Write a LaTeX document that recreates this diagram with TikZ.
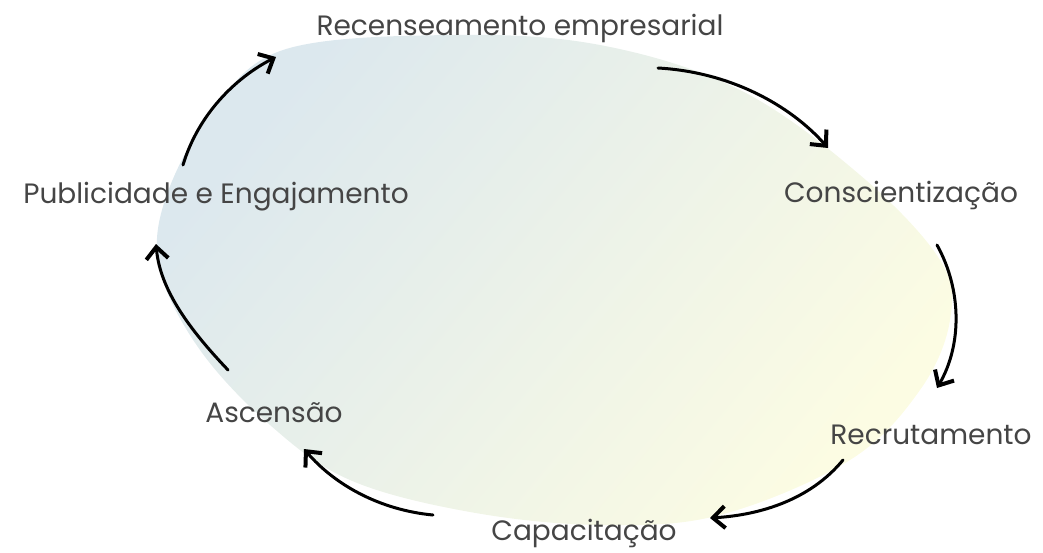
\documentclass[tikz,border=0pt]{standalone}
\usepackage{fontspec}
\setmainfont{Poppins}
\usetikzlibrary{arrows.meta}
\definecolor{blobblue}{HTML}{DCE8EE}
\definecolor{blobmid}{HTML}{EEF3E9}
\definecolor{blobyellow}{HTML}{FCFCE3}
\definecolor{txt}{HTML}{454545}
\begin{document}
\begin{tikzpicture}[x=1pt,y=-1pt,
  lbl/.style={text=txt,font=\fontsize{28}{32}\selectfont,inner sep=0pt},
  cyc/.style={line width=3pt,line cap=round,
    -{Straight Barb[length=12pt,width=22pt,line width=4pt]}}]
\useasboundingbox (0,0) rectangle (1043,552);
\shade[top color=blobblue, middle color=blobmid, bottom color=blobyellow, shading angle=50]
  plot[smooth cycle, tension=0.6] coordinates {(283,50) (450,35) (600,45) (740,90) (860,175) (940,260) (950,320) (920,390) (850,460) (720,515) (600,525) (470,512) (350,480) (270,425) (200,350) (160,270) (165,200) (210,115)};
\node[lbl] (rec) at (520,28) {Recenseamento empresarial};
\node[lbl] (con) at (901,195) {Conscientização};
\node[lbl] (ecr) at (931,435) {Recrutamento};
\node[lbl] (cap) at (584,533) {Capacitação};
\node[lbl] (asc) at (274,413) {Ascensão};
\node[lbl] (pub) at (216,197) {Publicidade e Engajamento};
\coordinate (a1s) at (183,165); \coordinate (a1e) at (276,57);
\coordinate (a2s) at (658,68);  \coordinate (a2e) at (828,148);
\coordinate (a3s) at (937,245); \coordinate (a3e) at (937,388);
\coordinate (a4s) at (843,460); \coordinate (a4e) at (710,518);
\coordinate (a5s) at (433,515); \coordinate (a5e) at (304,449);
\coordinate (a6s) at (228,370); \coordinate (a6e) at (156,244);
\draw[cyc] (a1s) .. controls (198,115) and (235,78) .. (a1e);
\draw[cyc] (a2s) .. controls (730,72) and (790,105) .. (a2e);
\draw[cyc] (a3s) .. controls (962,290) and (962,345) .. (a3e);
\draw[cyc] (a4s) .. controls (810,500) and (760,515) .. (a4e);
\draw[cyc] (a5s) .. controls (380,510) and (335,485) .. (a5e);
\draw[cyc] (a6s) .. controls (190,330) and (160,290) .. (a6e);
\end{tikzpicture}
\end{document}
